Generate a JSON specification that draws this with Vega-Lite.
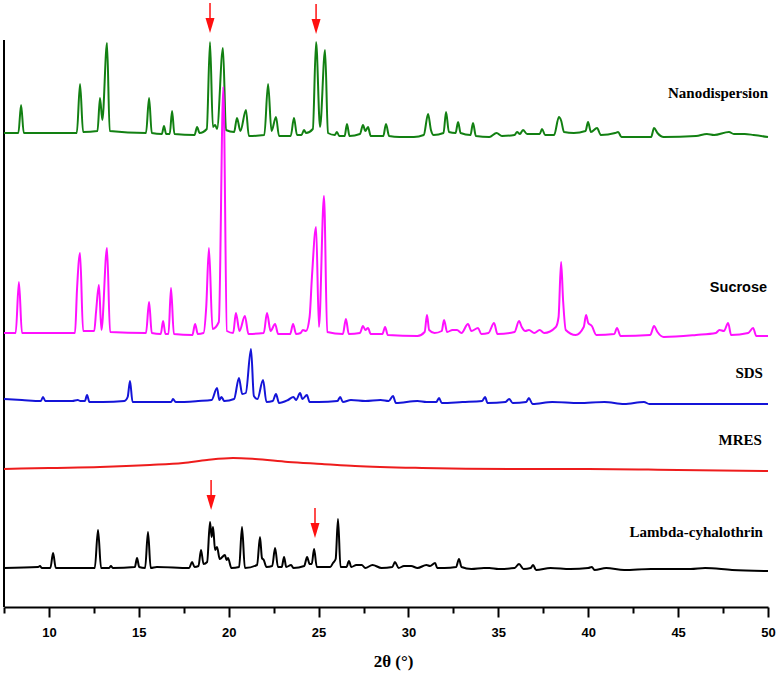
{
  "$schema": "https://vega.github.io/schema/vega-lite/v6.json",
  "autosize": {"type": "none"},
  "width": 764,
  "height": 607,
  "padding": {"left": 4, "top": 0, "right": 11, "bottom": 70},
  "background": "white",
  "config": {"view": {"stroke": null}},
  "datasets": {
    "nano": [
      {"x":7.5,"y":474},{"x":8.3,"y":474},{"x":8.45,"y":502},{"x":8.6,"y":474},{"x":11.55,"y":474},{"x":11.73,"y":523},{"x":11.9,"y":475},{"x":12.7,"y":476},{"x":12.84,"y":509},{"x":12.97,"y":487},{"x":13.23,"y":564},{"x":13.38,"y":476},{"x":15.4,"y":474},{"x":15.57,"y":509},{"x":15.72,"y":474},{"x":16.28,"y":473},{"x":16.4,"y":481},{"x":16.52,"y":473},{"x":16.72,"y":473},{"x":16.85,"y":496},{"x":16.98,"y":473},{"x":18.1,"y":472},{"x":18.24,"y":480},{"x":18.38,"y":474},{"x":18.78,"y":478},{"x":18.96,"y":565},{"x":19.12,"y":480},{"x":19.25,"y":482},{"x":19.35,"y":478},{"x":19.68,"y":559},{"x":19.85,"y":477},{"x":20.3,"y":475},{"x":20.46,"y":489},{"x":20.65,"y":476},{"x":20.96,"y":497},{"x":21.12,"y":471},{"x":21.98,"y":472},{"x":22.19,"y":523},{"x":22.38,"y":476},{"x":22.63,"y":490},{"x":22.8,"y":471},{"x":23.45,"y":471},{"x":23.63,"y":489},{"x":23.8,"y":472},{"x":24.05,"y":472},{"x":24.19,"y":477},{"x":24.3,"y":474},{"x":24.68,"y":478},{"x":24.86,"y":565},{"x":25.08,"y":480},{"x":25.36,"y":557},{"x":25.52,"y":474},{"x":25.9,"y":472},{"x":26.02,"y":475},{"x":26.15,"y":471},{"x":26.45,"y":471},{"x":26.58,"y":483},{"x":26.72,"y":471},{"x":27.3,"y":473},{"x":27.47,"y":482},{"x":27.6,"y":476},{"x":27.75,"y":480},{"x":27.9,"y":471},{"x":28.6,"y":471},{"x":28.75,"y":483},{"x":28.92,"y":471},{"x":29.5,"y":470},{"x":30.3,"y":470},{"x":30.85,"y":472},{"x":31.09,"y":493},{"x":31.25,"y":477},{"x":31.4,"y":472},{"x":31.95,"y":474},{"x":32.09,"y":495},{"x":32.25,"y":475},{"x":32.62,"y":474},{"x":32.76,"y":485},{"x":32.9,"y":474},{"x":33.45,"y":472},{"x":33.59,"y":484},{"x":33.75,"y":471},{"x":34.5,"y":470},{"x":34.9,"y":474},{"x":35.2,"y":471},{"x":35.9,"y":472},{"x":36.04,"y":475},{"x":36.2,"y":473},{"x":36.37,"y":477},{"x":36.6,"y":473},{"x":37.3,"y":473},{"x":37.43,"y":478},{"x":37.6,"y":472},{"x":38.1,"y":472},{"x":38.37,"y":490},{"x":38.5,"y":486},{"x":38.65,"y":475},{"x":39.2,"y":474},{"x":39.85,"y":476},{"x":39.99,"y":485},{"x":40.15,"y":475},{"x":40.49,"y":479},{"x":40.7,"y":472},{"x":41.5,"y":474},{"x":41.66,"y":475},{"x":41.85,"y":470},{"x":43.5,"y":470},{"x":43.66,"y":479},{"x":43.85,"y":474},{"x":44.2,"y":470},{"x":46.0,"y":471},{"x":46.6,"y":473},{"x":47.0,"y":472},{"x":47.83,"y":475},{"x":48.1,"y":473},{"x":48.7,"y":473},{"x":49.2,"y":472},{"x":50,"y":470}
    ],
    "sucrose": [
      {"x":7.5,"y":274},{"x":8.15,"y":274},{"x":8.33,"y":325},{"x":8.5,"y":274},{"x":11.45,"y":274},{"x":11.56,"y":317},{"x":11.73,"y":354},{"x":11.9,"y":276},{"x":12.52,"y":276},{"x":12.62,"y":295},{"x":12.78,"y":322},{"x":12.92,"y":277},{"x":13.23,"y":359},{"x":13.4,"y":275},{"x":15.4,"y":274},{"x":15.57,"y":305},{"x":15.72,"y":274},{"x":16.22,"y":273},{"x":16.35,"y":286},{"x":16.48,"y":273},{"x":16.65,"y":273},{"x":16.79,"y":319},{"x":16.95,"y":273},{"x":17.98,"y":272},{"x":18.13,"y":283},{"x":18.28,"y":273},{"x":18.6,"y":274},{"x":18.75,"y":300},{"x":18.9,"y":359},{"x":19.1,"y":278},{"x":19.45,"y":285},{"x":19.7,"y":520},{"x":19.9,"y":276},{"x":20.25,"y":274},{"x":20.4,"y":294},{"x":20.6,"y":276},{"x":20.9,"y":291},{"x":21.1,"y":273},{"x":21.95,"y":274},{"x":22.13,"y":294},{"x":22.33,"y":276},{"x":22.58,"y":283},{"x":22.75,"y":273},{"x":23.42,"y":273},{"x":23.58,"y":283},{"x":23.75,"y":273},{"x":24.0,"y":274},{"x":24.13,"y":277},{"x":24.3,"y":276},{"x":24.5,"y":290},{"x":24.63,"y":330},{"x":24.86,"y":380},{"x":25.02,"y":280},{"x":25.3,"y":411},{"x":25.48,"y":275},{"x":26.35,"y":273},{"x":26.52,"y":288},{"x":26.68,"y":273},{"x":27.3,"y":274},{"x":27.47,"y":281},{"x":27.6,"y":277},{"x":27.75,"y":279},{"x":27.9,"y":273},{"x":28.55,"y":273},{"x":28.7,"y":280},{"x":28.85,"y":272},{"x":30.5,"y":271},{"x":30.9,"y":275},{"x":31.03,"y":292},{"x":31.15,"y":277},{"x":31.45,"y":274},{"x":31.85,"y":276},{"x":31.98,"y":287},{"x":32.15,"y":275},{"x":32.45,"y":277},{"x":32.7,"y":277},{"x":32.95,"y":274},{"x":33.31,"y":283},{"x":33.5,"y":276},{"x":33.87,"y":279},{"x":34.05,"y":273},{"x":34.45,"y":274},{"x":34.76,"y":284},{"x":34.95,"y":273},{"x":35.9,"y":275},{"x":36.15,"y":286},{"x":36.3,"y":280},{"x":36.5,"y":276},{"x":36.7,"y":277},{"x":37.0,"y":274},{"x":37.3,"y":277},{"x":37.55,"y":274},{"x":38.2,"y":280},{"x":38.35,"y":290},{"x":38.49,"y":345},{"x":38.6,"y":307},{"x":38.75,"y":277},{"x":39.3,"y":272},{"x":39.75,"y":280},{"x":39.88,"y":292},{"x":40.0,"y":284},{"x":40.2,"y":281},{"x":40.45,"y":272},{"x":41.45,"y":273},{"x":41.6,"y":279},{"x":41.8,"y":271},{"x":43.45,"y":272},{"x":43.66,"y":281},{"x":43.85,"y":275},{"x":44.2,"y":270},{"x":46.0,"y":272},{"x":47.1,"y":274},{"x":47.3,"y":277},{"x":47.55,"y":276},{"x":47.78,"y":284},{"x":47.95,"y":272},{"x":48.9,"y":274},{"x":49.17,"y":279},{"x":49.35,"y":271},{"x":50,"y":271}
    ],
    "sds": [
      {"x":7.5,"y":208},{"x":8.5,"y":207},{"x":9.55,"y":206},{"x":9.67,"y":210},{"x":9.8,"y":206},{"x":11.3,"y":206},{"x":11.6,"y":207},{"x":11.75,"y":206},{"x":12.0,"y":206},{"x":12.12,"y":212},{"x":12.25,"y":205},{"x":13.0,"y":205},{"x":14.2,"y":206},{"x":14.38,"y":210},{"x":14.51,"y":226},{"x":14.65,"y":205},{"x":16.8,"y":205},{"x":16.9,"y":208},{"x":17.05,"y":205},{"x":18.3,"y":206},{"x":19.05,"y":207},{"x":19.35,"y":219},{"x":19.48,"y":207},{"x":19.6,"y":210},{"x":19.75,"y":206},{"x":20.3,"y":208},{"x":20.57,"y":229},{"x":20.75,"y":213},{"x":20.95,"y":214},{"x":21.24,"y":258},{"x":21.4,"y":211},{"x":21.6,"y":208},{"x":21.91,"y":227},{"x":22.1,"y":205},{"x":22.45,"y":206},{"x":22.63,"y":213},{"x":22.8,"y":204},{"x":23.3,"y":207},{"x":23.6,"y":210},{"x":23.75,"y":207},{"x":23.97,"y":214},{"x":24.1,"y":208},{"x":24.35,"y":212},{"x":24.5,"y":205},{"x":25.0,"y":205},{"x":26.05,"y":206},{"x":26.2,"y":210},{"x":26.35,"y":205},{"x":26.8,"y":207},{"x":27.6,"y":206},{"x":28.45,"y":207},{"x":28.9,"y":206},{"x":29.14,"y":211},{"x":29.3,"y":204},{"x":30.5,"y":206},{"x":31.0,"y":205},{"x":31.55,"y":205},{"x":31.7,"y":209},{"x":31.85,"y":204},{"x":33.0,"y":205},{"x":34.1,"y":206},{"x":34.26,"y":210},{"x":34.4,"y":204},{"x":35.4,"y":205},{"x":35.6,"y":208},{"x":35.8,"y":204},{"x":36.55,"y":205},{"x":36.7,"y":209},{"x":36.9,"y":203},{"x":38.0,"y":205},{"x":39.5,"y":204},{"x":40.9,"y":205},{"x":42.0,"y":203},{"x":43.1,"y":205},{"x":43.4,"y":203},{"x":50,"y":203}
    ],
    "mres": [
      {"x":7.5,"y":138},{"x":10,"y":139},{"x":12.84,"y":140},{"x":15.62,"y":142},{"x":17.46,"y":144},{"x":18.79,"y":147},{"x":20.24,"y":149},{"x":21.46,"y":148},{"x":23.3,"y":145},{"x":25.19,"y":143},{"x":27.03,"y":141},{"x":30.75,"y":139},{"x":35.93,"y":138},{"x":40,"y":138},{"x":45,"y":137},{"x":50,"y":136}
    ],
    "lambda": [
      {"x":7.5,"y":39},{"x":9.4,"y":40},{"x":9.5,"y":41},{"x":9.6,"y":39},{"x":10.08,"y":39},{"x":10.23,"y":54},{"x":10.38,"y":39},{"x":12.55,"y":39},{"x":12.73,"y":77},{"x":12.9,"y":39},{"x":13.35,"y":39},{"x":13.45,"y":41},{"x":13.55,"y":39},{"x":14.78,"y":40},{"x":14.9,"y":49},{"x":15.02,"y":40},{"x":15.35,"y":39},{"x":15.51,"y":75},{"x":15.66,"y":39},{"x":16.0,"y":40},{"x":17.8,"y":39},{"x":17.96,"y":45},{"x":18.1,"y":40},{"x":18.32,"y":41},{"x":18.46,"y":57},{"x":18.6,"y":43},{"x":18.8,"y":45},{"x":18.96,"y":85},{"x":19.05,"y":70},{"x":19.13,"y":80},{"x":19.24,"y":57},{"x":19.35,"y":60},{"x":19.5,"y":48},{"x":19.79,"y":52},{"x":19.88,"y":47},{"x":19.96,"y":49},{"x":20.15,"y":39},{"x":20.58,"y":40},{"x":20.74,"y":80},{"x":20.9,"y":39},{"x":21.58,"y":42},{"x":21.74,"y":70},{"x":21.85,"y":49},{"x":21.95,"y":47},{"x":22.1,"y":40},{"x":22.42,"y":41},{"x":22.58,"y":59},{"x":22.74,"y":40},{"x":22.95,"y":40},{"x":23.08,"y":50},{"x":23.2,"y":40},{"x":23.47,"y":42},{"x":23.6,"y":39},{"x":24.2,"y":41},{"x":24.36,"y":50},{"x":24.5,"y":43},{"x":24.62,"y":43},{"x":24.75,"y":58},{"x":24.9,"y":40},{"x":25.65,"y":40},{"x":25.8,"y":44},{"x":25.95,"y":48},{"x":26.08,"y":88},{"x":26.22,"y":40},{"x":26.55,"y":40},{"x":26.69,"y":46},{"x":26.82,"y":40},{"x":27.1,"y":42},{"x":27.4,"y":42},{"x":27.6,"y":39},{"x":28.0,"y":42},{"x":28.5,"y":39},{"x":29.1,"y":40},{"x":29.25,"y":45},{"x":29.45,"y":39},{"x":29.75,"y":41},{"x":30.15,"y":41},{"x":30.5,"y":39},{"x":31.0,"y":42},{"x":31.2,"y":41},{"x":31.48,"y":44},{"x":31.6,"y":39},{"x":32.0,"y":39},{"x":32.65,"y":40},{"x":32.81,"y":48},{"x":32.95,"y":40},{"x":33.5,"y":38},{"x":34.2,"y":39},{"x":34.5,"y":39},{"x":35.0,"y":38},{"x":35.9,"y":39},{"x":36.15,"y":43},{"x":36.4,"y":38},{"x":36.8,"y":39},{"x":36.93,"y":42},{"x":37.1,"y":37},{"x":37.9,"y":39},{"x":39.0,"y":38},{"x":40.0,"y":39},{"x":40.2,"y":40},{"x":40.35,"y":37},{"x":41.0,"y":39},{"x":42.0,"y":37},{"x":43.5,"y":38},{"x":45.7,"y":38},{"x":46.5,"y":39},{"x":48.0,"y":37},{"x":50,"y":36}
    ],
    "arrows": [
      {"x":18.96,"top":604,"bottom":587,"head":581.5},
      {"x":24.86,"top":603,"bottom":586,"head":580.5},
      {"x":19.02,"top":127,"bottom":110,"head":104.5},
      {"x":24.8,"top":99,"bottom":82,"head":76.5}
    ],
    "labels": [
      {"label":"Nanodispersion","x":50,"y":514,"font":"serif"},
      {"label":"Sucrose","x":49.95,"y":319,"font":"sans"},
      {"label":"SDS","x":49.72,"y":234,"font":"serif"},
      {"label":"MRES","x":49.66,"y":167,"font":"serif"},
      {"label":"Lambda-cyhalothrin","x":49.72,"y":75,"font":"serif"}
    ],
    "frame": [{"x":7.5,"y":0,"y2":567}]
  },
  "encoding": {
    "x": {
      "field": "x", "type": "quantitative",
      "scale": {"domain": [7.5, 50], "nice": false, "zero": false},
      "axis": {
        "values": [7.5,10,12.5,15,17.5,20,22.5,25,27.5,30,32.5,35,37.5,40,42.5,45,47.5,50],
        "labelExpr": "datum.value % 5 === 0 ? datum.label : ''",
        "tickSize": {"condition": {"test": "datum.value % 5 === 0", "value": 10}, "value": 6},
        "tickWidth": 2, "tickColor": "black",
        "domainColor": "black", "domainWidth": 2,
        "grid": false,
        "labelFont": "Liberation Sans", "labelFontWeight": "bold", "labelFontSize": 13, "labelColor": "black",
        "labelPadding": 9, "labelFlush": false, "labelOverlap": false,
        "title": "2θ (°)", "titleFont": "Liberation Serif", "titleFontSize": 17, "titleFontWeight": "bold", "titleColor": "black",
        "titlePadding": 14, "titleX": 389
      }
    }
  },
  "layer": [
    {"data": {"name": "frame"}, "mark": {"type": "rule", "color": "black", "strokeWidth": 2},
     "encoding": {"y": {"field": "y", "type": "quantitative", "scale": {"domain": [0, 607], "nice": false}, "axis": null}, "y2": {"field": "y2"}}},
    {"data": {"name": "nano"}, "mark": {"type": "line", "color": "#128012", "strokeWidth": 2, "interpolate": "monotone"},
     "encoding": {"y": {"field": "y", "type": "quantitative"}}},
    {"data": {"name": "sucrose"}, "mark": {"type": "line", "color": "#ff10ff", "strokeWidth": 2, "interpolate": "monotone"},
     "encoding": {"y": {"field": "y", "type": "quantitative"}}},
    {"data": {"name": "sds"}, "mark": {"type": "line", "color": "#1414d8", "strokeWidth": 2, "interpolate": "monotone"},
     "encoding": {"y": {"field": "y", "type": "quantitative"}}},
    {"data": {"name": "mres"}, "mark": {"type": "line", "color": "#ee1c1c", "strokeWidth": 2, "interpolate": "monotone"},
     "encoding": {"y": {"field": "y", "type": "quantitative"}}},
    {"data": {"name": "lambda"}, "mark": {"type": "line", "color": "#000000", "strokeWidth": 2, "interpolate": "monotone"},
     "encoding": {"y": {"field": "y", "type": "quantitative"}}},
    {"data": {"name": "arrows"}, "mark": {"type": "rule", "color": "#ff1010", "strokeWidth": 1.5},
     "encoding": {"y": {"field": "top", "type": "quantitative"}, "y2": {"field": "bottom"}}},
    {"data": {"name": "arrows"}, "mark": {"type": "point", "shape": "M-0.6,-1L0.6,-1L0,1Z", "filled": true, "color": "#ff1010", "opacity": 1, "size": 225, "strokeWidth": 0},
     "encoding": {"y": {"field": "head", "type": "quantitative"}}},
    {"data": {"name": "labels"}, "transform": [{"filter": "datum.font === 'serif'"}],
     "mark": {"type": "text", "align": "right", "baseline": "middle", "font": "Liberation Serif", "fontWeight": "bold", "fontSize": 15, "color": "black"},
     "encoding": {"y": {"field": "y", "type": "quantitative"}, "text": {"field": "label"}}},
    {"data": {"name": "labels"}, "transform": [{"filter": "datum.font === 'sans'"}],
     "mark": {"type": "text", "align": "right", "baseline": "middle", "font": "Liberation Sans", "fontWeight": "bold", "fontSize": 14.5, "color": "black"},
     "encoding": {"y": {"field": "y", "type": "quantitative"}, "text": {"field": "label"}}}
  ]
}
